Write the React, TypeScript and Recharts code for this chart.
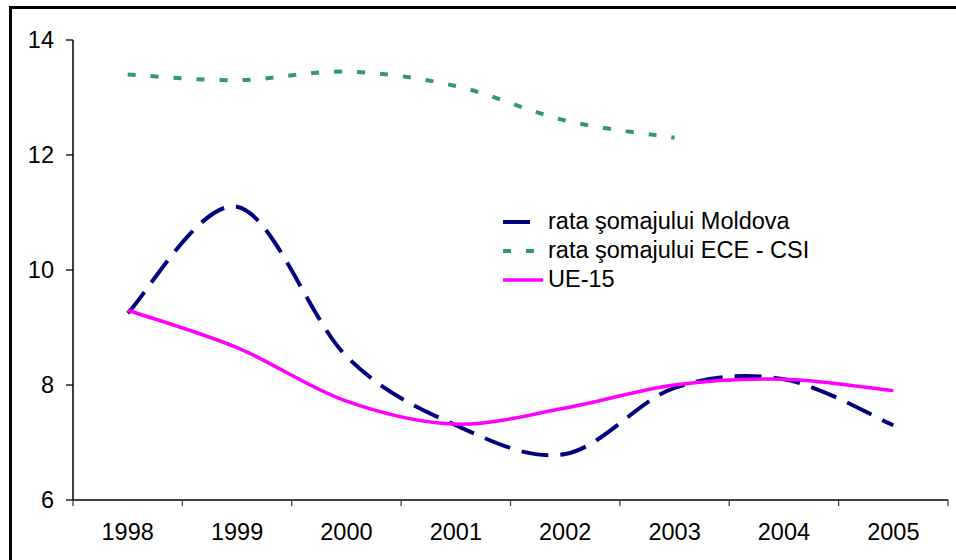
import React from 'react';
import { ComposedChart, Line, XAxis, YAxis, Legend } from 'recharts';

const years = ['1998', '1999', '2000', '2001', '2002', '2003', '2004', '2005'];
const moldova = [9.25, 11.1, 8.5, 7.3, 6.8, 7.95, 8.1, 7.3];
const eceCsi: (number | null)[] = [13.4, 13.3, 13.45, 13.2, 12.6, 12.3, null, null];
const ue15 = [9.3, 8.65, 7.72, 7.32, 7.6, 8.0, 8.1, 7.9];
const yTicks = [6, 8, 10, 12, 14];

const seriesNames = {
  moldova: 'rata şomajului Moldova',
  ece: 'rata şomajului ECE - CSI',
  ue: 'UE-15',
};

const data = years.map((y, i) => ({
  year: y,
  moldova: moldova[i],
  ece: eceCsi[i],
  ue: ue15[i],
}));

const W = 956;
const H = 560;
const X_AXIS_H = 60;
const M = { top: 40, right: 8, bottom: 0, left: 0 };
const Y_AXIS_W = 73;
const PLOT_W = W - M.left - M.right - Y_AXIS_W;
const BAND = PLOT_W / years.length;
const FONT = '"Liberation Sans", Arial, Helvetica, sans-serif';
const FS = 23.5;

// Excel-like smoothing (Catmull-Rom through the points)
function excelCurve(context: any) {
  let pts: number[][] = [];
  return {
    areaStart() {},
    areaEnd() {},
    lineStart() {
      pts = [];
    },
    point(x: number, y: number) {
      pts.push([+x, +y]);
    },
    lineEnd() {
      if (!pts.length) return;
      context.moveTo(pts[0][0], pts[0][1]);
      if (pts.length === 1) {
        context.lineTo(pts[0][0], pts[0][1]);
        return;
      }
      for (let i = 0; i < pts.length - 1; i++) {
        const p0 = pts[i - 1] || pts[i];
        const p1 = pts[i];
        const p2 = pts[i + 1];
        const p3 = pts[i + 2] || p2;
        context.bezierCurveTo(
          p1[0] + (p2[0] - p0[0]) / 6,
          p1[1] + (p2[1] - p0[1]) / 6,
          p2[0] - (p3[0] - p1[0]) / 6,
          p2[1] - (p3[1] - p1[1]) / 6,
          p2[0],
          p2[1]
        );
      }
    },
  };
}

const XTick = (props: any) => {
  const { x, y, payload, index, visibleTicksCount } = props;
  const last = index === (visibleTicksCount ?? years.length) - 1;
  return (
    <g>
      <line x1={x - BAND / 2} x2={x - BAND / 2} y1={y} y2={y + 6} stroke="#444" strokeWidth={1.3} />
      {last && (
        <line x1={x + BAND / 2} x2={x + BAND / 2} y1={y} y2={y + 6} stroke="#444" strokeWidth={1.3} />
      )}
      <text x={x} y={y + 40} textAnchor="middle" fill="#000" fontSize={FS} fontFamily={FONT}>
        {payload.value}
      </text>
    </g>
  );
};

const legendItems = [
  { key: 'moldova', color: '#000080', dash: '27 13', width: 4 },
  { key: 'ece', color: '#339966', dash: '8 15', width: 4 },
  { key: 'ue', color: '#FF00FF', dash: undefined, width: 3.5 },
];

const LegendContent = () => (
  <div style={{ fontFamily: FONT, fontSize: FS, color: '#000' }}>
    {legendItems.map((it) => (
      <div key={it.key} style={{ display: 'flex', alignItems: 'center', height: 29 }}>
        <svg width={44} height={10} style={{ marginRight: 1 }}>
          <line x1={0} x2={40} y1={5} y2={5} stroke={it.color} strokeWidth={it.width} strokeDasharray={it.dash} />
        </svg>
        <span style={{ lineHeight: '29px', whiteSpace: 'nowrap' }}>{(seriesNames as any)[it.key]}</span>
      </div>
    ))}
  </div>
);

export default function App() {
  return (
    <div
      style={{
        position: 'absolute',
        left: 0,
        top: 0,
        width: W,
        height: H,
        overflow: 'hidden',
        background: '#fff',
      }}
    >
      <div
        style={{
          position: 'absolute',
          left: 9,
          top: 6,
          width: 1100,
          height: 1100,
          border: '3px solid #000',
          boxSizing: 'border-box',
        }}
      />
      <div style={{ position: 'absolute', left: 0, top: 0 }}>
        <ComposedChart width={W} height={H} data={data} margin={M}>
          <XAxis
            dataKey="year"
            padding={{ left: BAND / 2, right: BAND / 2 }}
            height={X_AXIS_H}
            axisLine={{ stroke: '#000', strokeWidth: 1.5 }}
            tickLine={false}
            tickSize={0}
            tickMargin={0}
            interval={0}
            tick={<XTick />}
          />
          <XAxis
            xAxisId="top"
            orientation="top"
            type="number"
            domain={[0, 1]}
            height={0}
            axisLine={{ stroke: '#999', strokeWidth: 1.5 }}
            tick={false}
            tickLine={false}
          />
          <YAxis
            domain={[6, 14]}
            ticks={yTicks}
            width={Y_AXIS_W}
            axisLine={{ stroke: '#000', strokeWidth: 1.5 }}
            tickLine={{ stroke: '#000', strokeWidth: 1.3 }}
            tickSize={7}
            tickMargin={12}
            tick={{ fill: '#000', fontSize: FS, fontFamily: FONT }}
            interval={0}
          />
          <YAxis
            yAxisId="right"
            orientation="right"
            domain={[0, 1]}
            width={0}
            axisLine={{ stroke: '#999', strokeWidth: 1.5 }}
            tick={false}
            tickLine={false}
          />
          <Line
            dataKey="moldova"
            name={seriesNames.moldova}
            type={excelCurve as any}
            stroke="#000080"
            strokeWidth={4}
            strokeDasharray="27 12"
            dot={false}
            activeDot={false}
            isAnimationActive={false}
          />
          <Line
            dataKey="ece"
            name={seriesNames.ece}
            type={excelCurve as any}
            stroke="#339966"
            strokeWidth={4}
            strokeDasharray="8 15"
            dot={false}
            activeDot={false}
            isAnimationActive={false}
          />
          <Line
            dataKey="ue"
            name={seriesNames.ue}
            type={excelCurve as any}
            stroke="#FF00FF"
            strokeWidth={3.5}
            dot={false}
            activeDot={false}
            isAnimationActive={false}
          />
          <Legend
            content={<LegendContent />}
            layout="vertical"
            verticalAlign="middle"
            align="center"
            wrapperStyle={{ position: 'absolute', left: 503, top: 207, width: 380 }}
          />
        </ComposedChart>
      </div>
    </div>
  );
}
